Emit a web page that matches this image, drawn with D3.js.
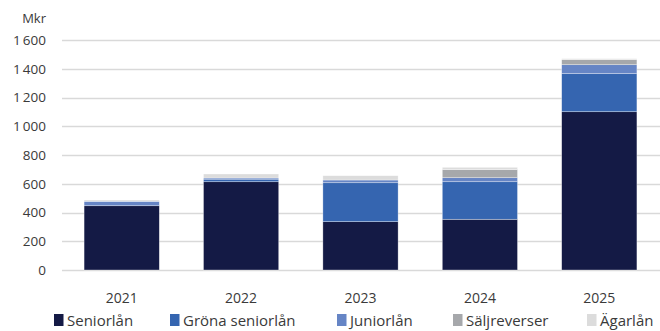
<!DOCTYPE html>
<html>
<head>
<meta charset="utf-8">
<script src="https://cdn.jsdelivr.net/npm/d3@7"></script>
<style>
  html, body { margin: 0; padding: 0; background: #fff; }
  svg { display: block; font-family: "Open Sans", sans-serif; }
</style>
</head>
<body>
<svg id="chart" width="660" height="331"></svg>
<script>
// Lending by type, Mkr per year
const years = ["2021", "2022", "2023", "2024", "2025"];
const seriesNames = ["Seniorlån", "Gröna seniorlån", "Juniorlån", "Säljreverser", "Ägarlån"];
const seniorlan = [447, 614, 336, 353, 1101];
const gronaSeniorlan = [0, 18, 271, 261, 265];
const juniorlan = [31, 8, 19, 28, 62];
const saljreverser = [0, 0, 0, 56, 35];
const agarlan = [9, 28, 30, 16, 7];
const yTicks = [0, 200, 400, 600, 800, 1000, 1200, 1400, 1600];
const colors = ["#141a45", "#3565b0", "#6685c5", "#a6a8ab", "#dcdcdc"];

const seriesValues = [seniorlan, gronaSeniorlan, juniorlan, saljreverser, agarlan];
const rows = years.map((y, i) => {
  const r = { year: y };
  seriesNames.forEach((n, k) => r[n] = seriesValues[k][i]);
  return r;
});

const svg = d3.select("#chart");
const margin = { left: 62, right: 1, top: 40, bottom: 61 };
const W = 660, H = 331;
const textColor = "#3a3a3a";

const x = d3.scaleBand().domain(years).range([margin.left, W - margin.right]).paddingInner(0.37).paddingOuter(0.185);
const y = d3.scaleLinear().domain([0, 1600]).range([H - margin.bottom, margin.top]);

const fmt = v => d3.format(",")(v).replace(/,/g, "\u2009");

// gridlines
svg.append("g")
  .selectAll("line")
  .data(yTicks)
  .join("line")
  .attr("x1", margin.left)
  .attr("x2", W)
  .attr("y1", d => Math.round(y(d)) + 0.5)
  .attr("y2", d => Math.round(y(d)) + 0.5)
  .attr("stroke", "#d9d9d9")
  .attr("stroke-width", 1.3);

// y axis labels
const yAxis = d3.axisLeft(y).tickValues(yTicks).tickFormat(fmt).tickSize(0).tickPadding(0);
const yg = svg.append("g").attr("transform", `translate(46,0)`).call(yAxis);
yg.select(".domain").remove();
yg.selectAll("text").attr("font-size", 13.5).attr("fill", textColor).attr("font-family", "Open Sans, sans-serif");

svg.append("text").attr("x", 46).attr("y", 23).attr("text-anchor", "end")
  .attr("font-size", 13).attr("fill", textColor).text("Mkr");

// stacked bars
const stack = d3.stack().keys(seriesNames)(rows);
svg.append("g")
  .selectAll("g")
  .data(stack)
  .join("g")
  .attr("fill", (d, i) => colors[i])
  .selectAll("rect")
  .data(d => d)
  .join("rect")
  .attr("x", d => x(d.data.year))
  .attr("width", x.bandwidth())
  .attr("y", d => y(d[1]))
  .attr("height", d => Math.max(0, y(d[0]) - y(d[1])))
  .attr("stroke", "rgba(255,255,255,0.55)")
  .attr("stroke-width", 0.6);

// x axis labels
const xAxis = d3.axisBottom(x).tickSize(0).tickPadding(0);
const xg = svg.append("g").attr("transform", `translate(0,${H - margin.bottom + 23})`).call(xAxis);
xg.select(".domain").remove();
xg.selectAll("text").attr("font-size", 14).attr("fill", textColor).attr("font-family", "Open Sans, sans-serif");

// legend
const legendX = [54, 170, 337, 453, 587];
const lg = svg.append("g");
seriesNames.forEach((n, i) => {
  lg.append("rect").attr("x", legendX[i]).attr("y", 314).attr("width", 9.5).attr("height", 12).attr("fill", colors[i]);
  lg.append("text").attr("x", legendX[i] + 13).attr("y", 325.5)
    .attr("font-size", 15).attr("fill", textColor).text(n);
});
</script>
</body>
</html>
